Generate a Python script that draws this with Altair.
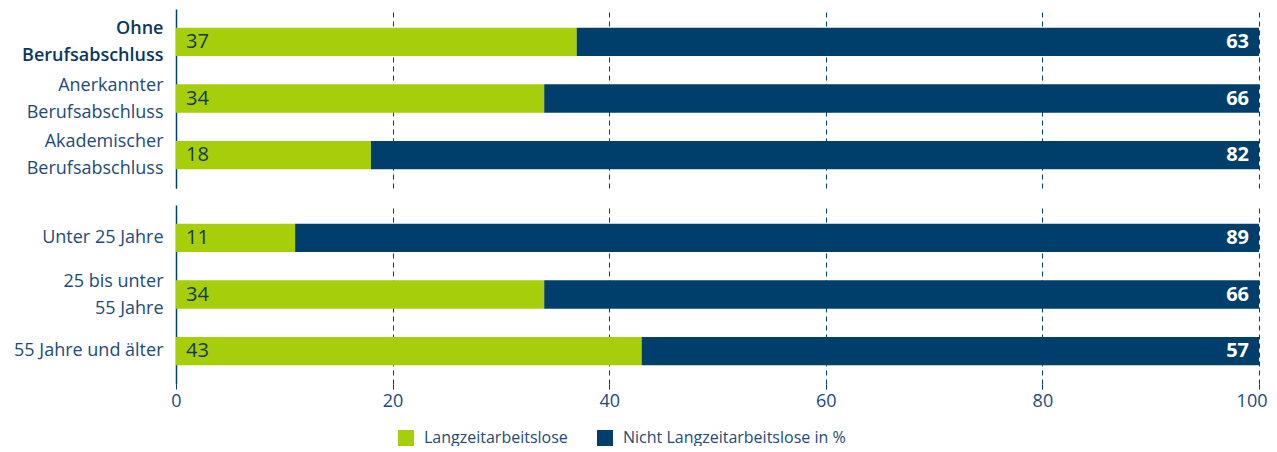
import altair as alt
import pandas as pd

categories = ["Ohne|Berufsabschluss", "Anerkannter|Berufsabschluss", "Akademischer|Berufsabschluss",
              "Unter 25 Jahre", "25 bis unter|55 Jahre", "55 Jahre und älter"]
groups = ["A", "A", "A", "B", "B", "B"]
lang = [37, 34, 18, 11, 34, 43]
nicht = [63, 66, 82, 89, 66, 57]
series = ["Langzeitarbeitslose", "Nicht Langzeitarbeitslose in %"]
x_ticks = [0, 20, 40, 60, 80, 100]

GREEN = "#a6ce0a"
NAVY = "#003f6b"
TEXT = "#1d4b77"
FONT = "Open Sans"

rows = []
for c, g, a, b in zip(categories, groups, lang, nicht):
    rows.append({"cat": c, "grp": g, "series": series[0], "value": a, "ord": 0})
    rows.append({"cat": c, "grp": g, "series": series[1], "value": b, "ord": 1})
df = pd.DataFrame(rows)

bold_test = "datum.value == 'Ohne|Berufsabschluss'"
multi_test = "indexof(datum.value, '|') >= 0"
last_test = "datum.value == 100"


def panel(grp, bottom):
    cats = [c for c, g in zip(categories, groups) if g == grp]
    base = alt.Chart(df).transform_filter(alt.datum.grp == grp)
    y = alt.Y("cat:N", sort=cats, title=None,
              scale=alt.Scale(paddingInner=0.5, paddingOuter=0.334),
              axis=alt.Axis(labelExpr="split(datum.label, '|')", labelFont=FONT, labelFontSize=18,
                            labelLineHeight=27, labelPadding=13, ticks=False,
                            labelOffset={"condition": {"test": multi_test, "value": -13}, "value": 0},
                            labelColor={"condition": {"test": bold_test, "value": "#0a3761"}, "value": TEXT},
                            labelFontWeight={"condition": {"test": bold_test, "value": 600}, "value": "normal"},
                            domainColor=NAVY, domainWidth=1.5, grid=False,
                            minExtent=168, maxExtent=168))
    if bottom:
        xaxis = alt.Axis(values=x_ticks, title=None, grid=True, gridDash=[5, 4], gridColor=NAVY, gridWidth=1,
                         domain=False, ticks=True, tickSize=5, tickColor=NAVY, labelFont=FONT, labelFontSize=18,
                         labelColor=TEXT, labelPadding=3, labelFlush=False,
                         labelAlign={"condition": {"test": last_test, "value": "right"}, "value": "center"},
                         labelOffset={"condition": {"test": last_test, "value": 8}, "value": 0})
    else:
        xaxis = alt.Axis(values=x_ticks, title=None, grid=True, gridDash=[5, 4], gridColor=NAVY, gridWidth=1,
                         domain=False, ticks=False, labels=False)
    legend = alt.Legend(title=None, orient="none", legendX=222, legendY=421, direction="horizontal",
                        symbolType="square", symbolSize=256, symbolStrokeWidth=0, labelFont=FONT,
                        labelFontSize=16, labelColor=TEXT, labelOffset=10, columnPadding=29,
                        labelLimit=500)
    bars = base.mark_bar().encode(
        x=alt.X("value:Q", stack="zero", scale=alt.Scale(domain=[0, 100], nice=False), axis=xaxis),
        y=y,
        color=alt.Color("series:N", scale=alt.Scale(domain=series, range=[GREEN, NAVY]), legend=legend),
        order=alt.Order("ord:Q"),
    )
    t1 = base.transform_filter(alt.datum.ord == 0).mark_text(
        align="left", dx=10, font=FONT, fontSize=20, color="#16385e", baseline="middle"
    ).encode(x=alt.datum(0), y=alt.Y("cat:N", sort=cats), text="value:Q")
    t2 = base.transform_filter(alt.datum.ord == 1).mark_text(
        align="right", dx=-10, font=FONT, fontSize=20, fontWeight="bold", color="white", baseline="middle"
    ).encode(x=alt.datum(100), y=alt.Y("cat:N", sort=cats), text="value:Q")
    return alt.layer(bars, t1, t2).properties(width=1083, height=179)


chart = alt.vconcat(panel("A", False), panel("B", True), spacing=17).properties(
    padding={"left": 0, "top": 1, "right": 0, "bottom": 0}
).configure_view(stroke=None).configure_axis(labelFont=FONT)

chart.save("out.html", embed_options={"renderer": "svg", "actions": False})
